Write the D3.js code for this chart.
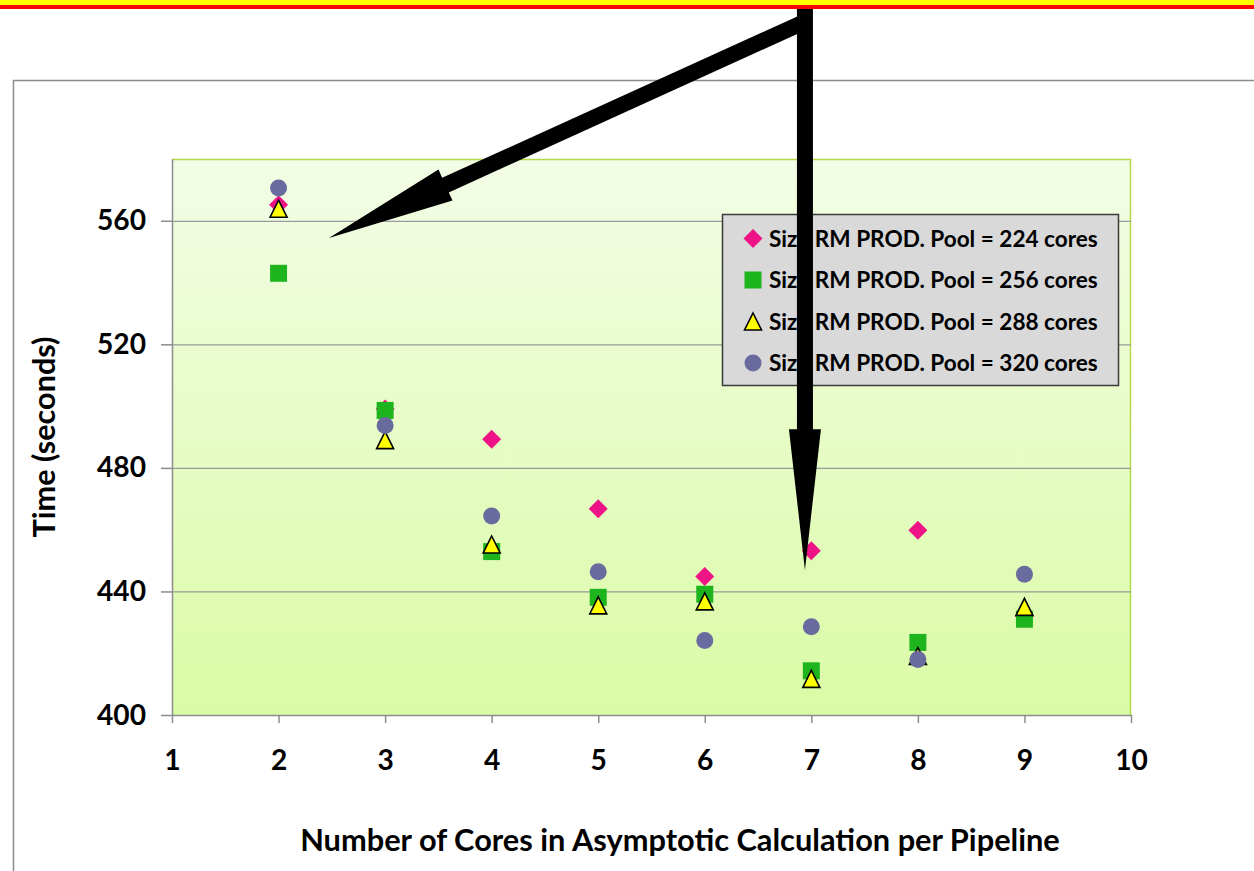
<!DOCTYPE html>
<html>
<head>
<meta charset="utf-8">
<script src="https://cdn.jsdelivr.net/npm/d3@7/dist/d3.min.js"></script>
<style>
  html, body { margin: 0; padding: 0; background: #ffffff; }
  svg { display: block; }
  text { font-family: Lato, "Open Sans", sans-serif; font-weight: 700; fill: #000; }
</style>
</head>
<body>
<svg id="chart" width="1254" height="871"></svg>
<script>
// Pipeline core counts on the x axis
const coresPerPipeline = [2, 3, 4, 5, 6, 7, 8, 9];

// Run time (seconds) for each RM PROD. pool size
const pool224 = [565.2, 499.1, 489.3, 466.8, 444.8, 453.2, 459.8, 432.0];
const pool256 = [543.0, 498.6, 452.9, 438.1, 439.1, 414.3, 423.5, 431.0];
const pool288 = [563.9, 489.0, 455.2, 435.5, 436.8, 411.7, 419.1, 435.0];
const pool320 = [570.6, 493.7, 464.4, 446.4, 424.1, 428.6, 418.0, 445.6];

const seriesNames = [
  "Size RM PROD. Pool = 224 cores",
  "Size RM PROD. Pool = 256 cores",
  "Size RM PROD. Pool = 288 cores",
  "Size RM PROD. Pool = 320 cores"
];

const xTicks = [1, 2, 3, 4, 5, 6, 7, 8, 9, 10];
const yTicks = [400, 440, 480, 520, 560];

// Callout arrows, in data units: [tailX, tailY] -> [tipX, tipY]
const calloutTails = [[6.93, 624.3], [6.94, 628.6]];
const calloutTips  = [[2.473, 554.4], [6.94, 446.9]];

const svg = d3.select("#chart");
const W = 1254, H = 871;
const plot = { left: 172, right: 1131, top: 159, bottom: 715 };

const x = d3.scaleLinear().domain([1, 10]).range([plot.left, plot.right]);
const y = d3.scaleLinear().domain([400, 580]).range([plot.bottom, plot.top]);

// Scale a text's font size so that it spans the wanted width
function fitWidth(sel, width) {
  const node = sel.node();
  const fs = parseFloat(sel.attr("font-size"));
  const w = node.getComputedTextLength();
  if (w > 0) sel.attr("font-size", (fs * width / w).toFixed(2));
  return sel;
}

// Header bands
svg.append("rect").attr("x", 0).attr("y", 0).attr("width", W).attr("height", 5).attr("fill", "#ffff00");
svg.append("rect").attr("x", 0).attr("y", 5).attr("width", W).attr("height", 4).attr("fill", "#ff0000");

// Chart frame
svg.append("rect").attr("x", 13.5).attr("y", 80.5).attr("width", 1400).attr("height", 1000)
  .attr("fill", "#ffffff").attr("stroke", "#8c8c8c").attr("stroke-width", 1.5);

// Plot area gradient
const defs = svg.append("defs");
const grad = defs.append("linearGradient").attr("id", "plotFill")
  .attr("x1", 0).attr("y1", 0).attr("x2", 0).attr("y2", 1);
grad.append("stop").attr("offset", "0%").attr("stop-color", "#f3fde6");
grad.append("stop").attr("offset", "100%").attr("stop-color", "#dafba6");

svg.append("rect")
  .attr("x", plot.left).attr("y", plot.top)
  .attr("width", plot.right - plot.left).attr("height", plot.bottom - plot.top)
  .attr("fill", "url(#plotFill)");

// Plot border: green top/right edges
svg.append("path")
  .attr("d", `M${plot.left},${plot.top + 0.5}H${plot.right - 0.5}V${plot.bottom}`)
  .attr("fill", "none").attr("stroke", "#b3d94a").attr("stroke-width", 1.5);

// Horizontal gridlines
svg.append("g").selectAll("line")
  .data(yTicks.filter(d => d > 400))
  .join("line")
  .attr("x1", plot.left).attr("x2", plot.right)
  .attr("y1", d => y(d) + 0.5).attr("y2", d => y(d) + 0.5)
  .attr("stroke", "#9a9a9a").attr("stroke-width", 1.2);

// Y axis
const yAxis = svg.append("g")
  .attr("transform", `translate(${plot.left},0)`)
  .call(d3.axisLeft(y).tickValues(yTicks).tickSize(11).tickPadding(15).tickSizeOuter(0));
yAxis.select(".domain").attr("stroke", "#8c8c8c").attr("stroke-width", 1.5);
yAxis.selectAll(".tick line").attr("stroke", "#8c8c8c").attr("stroke-width", 1.5);
yAxis.selectAll(".tick text")
  .attr("font-family", "Lato, sans-serif").attr("font-weight", 700)
  .attr("font-size", 27).attr("fill", "#000");

// Tick label size taken from the width of a three-digit label
const yTickText = yAxis.selectAll(".tick text").filter(d => d === 560);
fitWidth(yTickText, 49);
const tickFont = yTickText.attr("font-size");
yAxis.selectAll(".tick text").attr("font-size", tickFont);

// X axis
const xAxis = svg.append("g")
  .attr("transform", `translate(0,${plot.bottom})`)
  .call(d3.axisBottom(x).tickValues(xTicks).tickSize(8).tickPadding(27).tickSizeOuter(0));
xAxis.select(".domain").attr("stroke", "#8c8c8c").attr("stroke-width", 1.5);
xAxis.selectAll(".tick line").attr("stroke", "#8c8c8c").attr("stroke-width", 1.5);
xAxis.selectAll(".tick text")
  .attr("font-family", "Lato, sans-serif").attr("font-weight", 700)
  .attr("font-size", tickFont).attr("fill", "#000");

// Axis titles
const xTitle = svg.append("text")
  .attr("x", 680).attr("y", 851)
  .attr("text-anchor", "middle").attr("font-size", 25)
  .text("Number of Cores in Asymptotic Calculation per Pipeline");
fitWidth(xTitle, 760);

const yTitle = svg.append("text")
  .attr("transform", "translate(55,437) rotate(-90)")
  .attr("text-anchor", "middle").attr("font-size", 25)
  .text("Time (seconds)");
fitWidth(yTitle, 201);

// Marker shapes
const markerStyles = [
  { shape: "diamond",  fill: "#ee1487", stroke: "none" },
  { shape: "square",   fill: "#1db41d", stroke: "none" },
  { shape: "triangle", fill: "#ffff00", stroke: "#000" },
  { shape: "circle",   fill: "#696a9d", stroke: "none" }
];

function markerPath(shape) {
  switch (shape) {
    case "diamond":  return "M0,-9.5L9.5,0L0,9.5L-9.5,0Z";
    case "square":   return "M-8.5,-8.5H8.5V8.5H-8.5Z";
    case "triangle": return "M0,-8.5L8.5,8.5H-8.5Z";
    default:         return d3.arc()({ innerRadius: 0, outerRadius: 8.5, startAngle: 0, endAngle: 2 * Math.PI });
  }
}

const allSeries = [pool224, pool256, pool288, pool320];

allSeries.forEach((vals, i) => {
  const st = markerStyles[i];
  svg.append("g").selectAll("path")
    .data(vals.map((v, j) => ({ x: coresPerPipeline[j], y: v })))
    .join("path")
    .attr("transform", d => `translate(${x(d.x)},${y(d.y)})`)
    .attr("d", markerPath(st.shape))
    .attr("fill", st.fill)
    .attr("stroke", st.stroke)
    .attr("stroke-width", st.stroke === "none" ? 0 : 1.6)
    .attr("stroke-linejoin", "miter");
});

// Legend
const legend = svg.append("g").attr("transform", "translate(722,214)");
legend.append("rect")
  .attr("x", 0.5).attr("y", 0.5).attr("width", 396).attr("height", 171)
  .attr("fill", "#d9d9d9").attr("stroke", "#3a3a3a").attr("stroke-width", 1.5);

let legendFont = null;
seriesNames.forEach((name, i) => {
  const st = markerStyles[i];
  const ly = 24.5 + i * 41.5;
  legend.append("path")
    .attr("transform", `translate(31,${ly})`)
    .attr("d", markerPath(st.shape))
    .attr("fill", st.fill)
    .attr("stroke", st.stroke)
    .attr("stroke-width", st.stroke === "none" ? 0 : 1.6);
  const t = legend.append("text")
    .attr("x", 47).attr("y", ly).attr("dy", "0.36em")
    .attr("font-size", 22)
    .text(name);
  if (legendFont === null) {
    fitWidth(t, 329);
    legendFont = t.attr("font-size");
  } else {
    t.attr("font-size", legendFont);
  }
});

// Callout arrows drawn on top of everything
function arrowPolygon(t, p, shaftW, headW, headL) {
  const dx = p[0] - t[0], dy = p[1] - t[1];
  const len = Math.hypot(dx, dy);
  const ux = dx / len, uy = dy / len;
  const nx = -uy, ny = ux;
  const bx = p[0] - ux * headL, by = p[1] - uy * headL;
  const pt = (ax, ay, k) => [ax + nx * k, ay + ny * k];
  return [
    pt(t[0], t[1], shaftW / 2),
    pt(bx, by, shaftW / 2),
    pt(bx, by, headW / 2),
    p,
    pt(bx, by, -headW / 2),
    pt(bx, by, -shaftW / 2),
    pt(t[0], t[1], -shaftW / 2)
  ];
}

const arrowDims = [
  { shaftW: 16, headW: 34, headL: 128 },
  { shaftW: 16, headW: 32, headL: 141 }
];

calloutTails.forEach((tail, i) => {
  const t = [x(tail[0]), y(tail[1])];
  const p = [x(calloutTips[i][0]), y(calloutTips[i][1])];
  const dm = arrowDims[i];
  svg.append("polygon")
    .attr("points", arrowPolygon(t, p, dm.shaftW, dm.headW, dm.headL).map(q => q.join(",")).join(" "))
    .attr("fill", "#000");
});
</script>
</body>
</html>
